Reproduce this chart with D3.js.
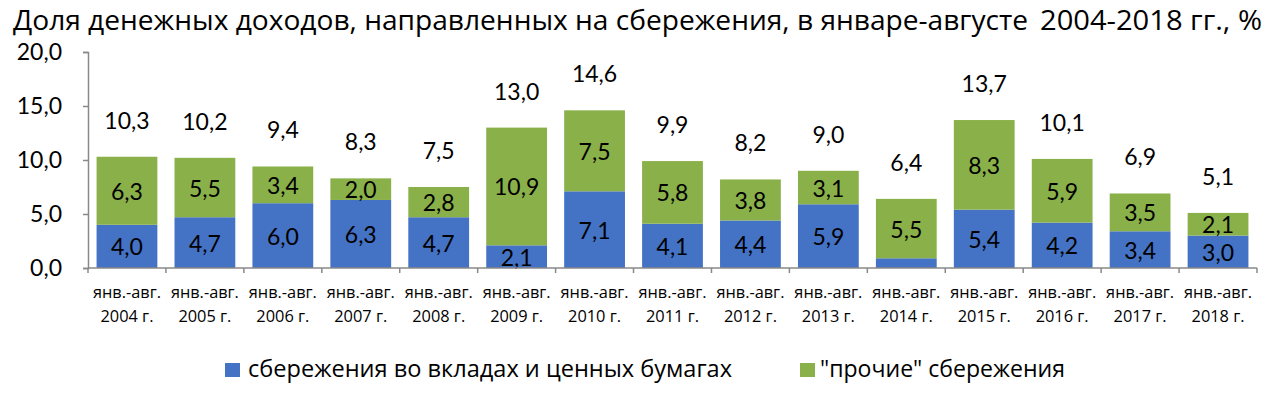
<!DOCTYPE html>
<html>
<head>
<meta charset="utf-8">
<script src="https://cdn.jsdelivr.net/npm/d3@7"></script>
<style>
  body { margin: 0; background: #fff; }
  text { font-family: "Open Sans", sans-serif; fill: #000; }
  .num { font-family: Lato, "Open Sans", sans-serif; }
</style>
</head>
<body>
<svg id="chart"></svg>
<script>
// --------------------
// Data
// --------------------
const years = ["2004", "2005", "2006", "2007", "2008", "2009", "2010", "2011",
  "2012", "2013", "2014", "2015", "2016", "2017", "2018"];
const deposits = [4.0, 4.7, 6.0, 6.3, 4.7, 2.1, 7.1, 4.1, 4.4, 5.9, 0.9, 5.4, 4.2, 3.4, 3.0];
const other = [6.3, 5.5, 3.4, 2.0, 2.8, 10.9, 7.5, 5.8, 3.8, 3.1, 5.5, 8.3, 5.9, 3.5, 2.1];
const totals = [10.3, 10.2, 9.4, 8.3, 7.5, 13.0, 14.6, 9.9, 8.2, 9.0, 6.4, 13.7, 10.1, 6.9, 5.1];
const yTicks = [0, 5, 10, 15, 20];
const seriesNames = ["сбережения во вкладах и ценных бумагах", "\"прочие\" сбережения"];
const titleMain = "Доля денежных доходов, направленных на сбережения, в январе-августе";
const titleTail = "2004-2018 гг., %";

// --------------------
// Basic setup
// --------------------
const width = 1280;
const height = 393;
const colors = ["#4472C4", "#8AB04A"];
const axisColor = "#898989";
const fmt = v => v.toFixed(1).replace(".", ",");

const svg = d3.select("#chart")
  .attr("width", width)
  .attr("height", height);

const x = d3.scaleBand()
  .domain(years)
  .range([88, 1257])
  .paddingInner(0.22)
  .paddingOuter(0.11);

const y = d3.scaleLinear()
  .domain([0, 20])
  .range([268, 52]);

// --------------------
// Title (narrow Calibri look via textLength)
// --------------------
svg.append("text")
  .attr("x", 13).attr("y", 30)
  .attr("textLength", 1015)
  .attr("lengthAdjust", "spacingAndGlyphs")
  .style("font-size", "27px")
  .text(titleMain);
svg.append("text")
  .attr("x", 1040).attr("y", 30)
  .attr("textLength", 222)
  .attr("lengthAdjust", "spacingAndGlyphs")
  .style("font-size", "28px")
  .text(titleTail);

// --------------------
// Stacked bars
// --------------------
const rows = years.map((yr, i) => ({ year: yr, a: deposits[i], b: other[i], total: totals[i] }));
const stack = d3.stack().keys(["a", "b"])(rows);

const layers = svg.selectAll("g.layer")
  .data(stack)
  .join("g")
    .attr("class", "layer")
    .attr("fill", (d, i) => colors[i]);

layers.selectAll("rect")
  .data(d => d)
  .join("rect")
    .attr("x", d => x(d.data.year))
    .attr("width", x.bandwidth())
    .attr("y", d => y(d[1]))
    .attr("height", d => y(d[0]) - y(d[1]));

// segment labels (the thin 2014 one has none in the source)
layers.selectAll("text")
  .data(d => d.filter(s => s[1] - s[0] >= 1))
  .join("text")
    .attr("class", "num")
    .attr("x", d => x(d.data.year) + x.bandwidth() / 2)
    .attr("y", d => (y(d[0]) + y(d[1])) / 2 + 9)
    .attr("text-anchor", "middle")
    .style("font-size", "23px")
    .text(d => fmt(d[1] - d[0]));

// totals
svg.append("g")
  .selectAll("text")
  .data(rows)
  .join("text")
    .attr("class", "num")
    .attr("x", d => x(d.year) + x.bandwidth() / 2)
    .attr("y", d => y(d.total) - 28)
    .attr("text-anchor", "middle")
    .style("font-size", "23px")
    .text(d => fmt(d.total));

// --------------------
// Axes
// --------------------
const yAxis = svg.append("g")
  .attr("transform", "translate(88,0)")
  .call(d3.axisLeft(y).tickValues(yTicks).tickFormat(fmt).tickSize(5).tickPadding(21));
yAxis.select(".domain").attr("stroke", axisColor).attr("stroke-width", 1.5);
yAxis.selectAll(".tick line").attr("stroke", axisColor).attr("stroke-width", 1.5);
yAxis.selectAll(".tick text")
  .attr("class", "num")
  .style("font-size", "23px")
  .style("font-family", "Lato, sans-serif")
  .attr("fill", "#000");

const xAxis = svg.append("g")
  .attr("transform", "translate(0,268)");
xAxis.append("line")
  .attr("x1", 88).attr("x2", 1257)
  .attr("stroke", axisColor).attr("stroke-width", 1.5);
xAxis.selectAll("line.tk")
  .data(d3.range(years.length + 1))
  .join("line")
    .attr("class", "tk")
    .attr("x1", i => 88 + i * (1169 / years.length))
    .attr("x2", i => 88 + i * (1169 / years.length))
    .attr("y1", 0).attr("y2", 5)
    .attr("stroke", axisColor).attr("stroke-width", 1.5);

const cat = xAxis.selectAll("g.cat")
  .data(years)
  .join("g")
    .attr("class", "cat")
    .attr("transform", d => `translate(${x(d) + x.bandwidth() / 2},0)`);
cat.append("text")
  .attr("x", -34).attr("y", 30)
  .attr("textLength", 68)
  .attr("lengthAdjust", "spacingAndGlyphs")
  .style("font-size", "16px")
  .text("янв.-авг.");
cat.append("text")
  .attr("x", -26.5).attr("y", 54)
  .attr("textLength", 53)
  .attr("lengthAdjust", "spacingAndGlyphs")
  .style("font-size", "17px")
  .text(d => d + " г.");

// --------------------
// Legend
// --------------------
const legendX = [225, 800];
const legendW = [484, 245];
const legend = svg.append("g")
  .selectAll("g")
  .data(seriesNames)
  .join("g")
    .attr("transform", (d, i) => `translate(${legendX[i]},377)`);
legend.append("rect")
  .attr("x", 0).attr("y", -14)
  .attr("width", 15).attr("height", 14)
  .attr("fill", (d, i) => colors[i]);
legend.append("text")
  .attr("x", (d, i) => i === 0 ? 23 : 20)
  .attr("y", 0)
  .attr("textLength", (d, i) => legendW[i])
  .attr("lengthAdjust", "spacingAndGlyphs")
  .style("font-size", "24px")
  .text(d => d);
</script>
</body>
</html>
